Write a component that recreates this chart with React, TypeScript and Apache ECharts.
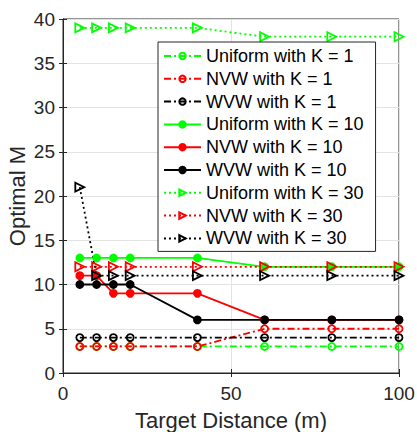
import React, { useEffect, useRef } from "react";
import * as echarts from "echarts";

const distances = [5, 10, 15, 20, 40, 60, 80, 100];
const uniformK1 = [3, 3, 3, 3, 3, 3, 3, 3];
const nvwK1 = [3, 3, 3, 3, 3, 5, 5, 5];
const wvwK1 = [4, 4, 4, 4, 4, 4, 4, 4];
const uniformK10 = [13, 13, 13, 13, 13, 12, 12, 12];
const nvwK10 = [11, 11, 9, 9, 9, 6, 6, 6];
const wvwK10 = [10, 10, 10, 10, 6, 6, 6, 6];
const uniformK30 = [39, 39, 39, 39, 39, 38, 38, 38];
const nvwK30 = [12, 12, 12, 12, 12, 12, 12, 12];
const wvwK30 = [21, 11, 11, 11, 11, 11, 11, 11];

const seriesNames = [
  "Uniform with K = 1",
  "NVW with K = 1",
  "WVW with K = 1",
  "Uniform with K = 10",
  "NVW with K = 10",
  "WVW with K = 10",
  "Uniform with K = 30",
  "NVW with K = 30",
  "WVW with K = 30",
];
const seriesValues = [uniformK1, nvwK1, wvwK1, uniformK10, nvwK10, wvwK10, uniformK30, nvwK30, wvwK30];
const colors = ["#00ff00", "#ff0000", "#000000"];

const FONT = "Liberation Sans";
const AXIS_COLOR = "#262626";

export default function App() {
  const ref = useRef<HTMLDivElement>(null);
  useEffect(() => {
    const chart = echarts.init(ref.current!, null, { renderer: "svg" });
    const series = seriesValues.map((vals, i) => {
      const group = Math.floor(i / 3);
      const color = colors[i % 3];
      let lineType: any = "solid";
      let symbol = "circle";
      let symbolSize = 7;
      let fill = color;
      let rotate = 0;
      if (group === 0) {
        lineType = [7, 3, 2, 3];
        fill = "rgba(0,0,0,0)";
      } else if (group === 2) {
        lineType = [2, 3];
        symbol = "triangle";
        symbolSize = 9;
        fill = "rgba(0,0,0,0)";
        rotate = -90;
      }
      return {
        name: seriesNames[i],
        type: "line",
        data: distances.map((d, j) => [d, vals[j]]),
        symbol,
        symbolSize,
        symbolRotate: rotate,
        showAllSymbol: true,
        lineStyle: { color, width: 1.8, type: lineType },
        itemStyle: { color: fill, borderColor: color, borderWidth: 1.8 },
        emphasis: { disabled: true },
      };
    });
    const tick = { show: true, inside: true, length: 4, lineStyle: { color: AXIS_COLOR } };
    const line = { show: true, lineStyle: { color: AXIS_COLOR } };
    chart.setOption({
      animation: false,
      backgroundColor: "#ffffff",
      textStyle: { fontFamily: FONT },
      grid: {
        left: 63,
        right: 18,
        top: 19,
        bottom: 59,
        containLabel: false,
        outerBoundsMode: "none",
        show: true,
        borderColor: AXIS_COLOR,
        borderWidth: 1,
      },
      xAxis: [
        {
          type: "value",
          min: 0,
          max: 100,
          interval: 50,
          name: "Target Distance (m)",
          nameLocation: "middle",
          nameGap: 36,
          nameTextStyle: { fontSize: 22, color: AXIS_COLOR, fontFamily: FONT },
          axisLine: line,
          axisTick: tick,
          axisLabel: { fontSize: 19, color: AXIS_COLOR, fontFamily: FONT, margin: 11 },
          splitLine: { show: true, lineStyle: { color: "#e3e3e3", width: 1 } },
        },
        {
          type: "value",
          position: "top",
          min: 0,
          max: 100,
          interval: 50,
          axisLine: line,
          axisTick: tick,
          axisLabel: { show: false },
          splitLine: { show: false },
        },
      ],
      yAxis: [
        {
          type: "value",
          min: 0,
          max: 40,
          interval: 5,
          name: "Optimal M",
          nameLocation: "middle",
          nameGap: 35,
          nameMoveOverlap: false,
          nameTextStyle: { fontSize: 22, color: AXIS_COLOR, fontFamily: FONT },
          axisLine: line,
          axisTick: tick,
          axisLabel: { fontSize: 19, color: AXIS_COLOR, fontFamily: FONT, margin: 8 },
          splitLine: { show: true, lineStyle: { color: "#e3e3e3", width: 1 } },
        },
        {
          type: "value",
          position: "right",
          min: 0,
          max: 40,
          interval: 5,
          axisLine: line,
          axisTick: tick,
          axisLabel: { show: false },
          splitLine: { show: false },
        },
      ],
      legend: {
        orient: "vertical",
        left: 158,
        top: 42,
        padding: [5, 12, 4, 5],
        itemWidth: 37,
        itemHeight: 8,
        itemGap: 4.8,
        backgroundColor: "#ffffff",
        borderColor: AXIS_COLOR,
        borderWidth: 1,
        borderRadius: 0,
        textStyle: { fontSize: 18, color: "#000000", fontFamily: FONT, padding: [0, 0, 0, 0] },
        data: seriesNames,
        selectedMode: false,
      },
      series,
    });
    return () => chart.dispose();
  }, []);
  return <div ref={ref} style={{ width: 417, height: 432, position: "absolute", left: 0, top: 0 }} />;
}
